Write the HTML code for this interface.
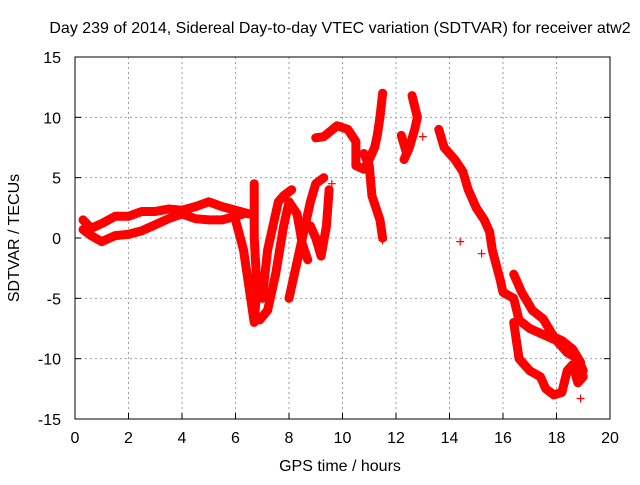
<!DOCTYPE html>
<html><head><meta charset="utf-8"><style>
body{margin:0;background:#fff}
svg text{font-family:"Liberation Sans",sans-serif;font-size:16px;fill:#000}
</style></head><body>
<svg width="640" height="480" viewBox="0 0 640 480">
<rect width="640" height="480" fill="#fff"/>
<text x="340" y="33" text-anchor="middle">Day 239 of 2014, Sidereal Day-to-day VTEC variation (SDTVAR) for receiver atw2</text>
<g id="grid"></g>
<g id="axes"></g>
<g id="series"></g>
<rect x="75" y="57" width="535" height="362" fill="none" stroke="#000" stroke-width="1"/>
<text x="340" y="471" text-anchor="middle">GPS time / hours</text>
<text transform="translate(19,238) rotate(-90)" text-anchor="middle">SDTVAR / TECUs</text>
</svg>
<script>
const xTicks=[0,2,4,6,8,10,12,14,16,18,20];
const yTicks=[-15,-10,-5,0,5,10,15];
const trackA_h=[0.3,0.6,1,1.5,2,2.5,3,3.5,4,4.5,5,5.5,6,6.5];
const trackA_v=[1.5,0.8,1.2,1.8,1.8,2.2,2.2,2.4,2.3,2.6,3.0,2.6,2.3,2.0];
const trackB_h=[0.3,0.6,1,1.5,2,2.5,3,3.5,4,4.5,5,5.5,6,6.3];
const trackB_v=[0.7,0.2,-0.3,0.2,0.3,0.6,1.1,1.6,2.0,1.6,1.5,1.5,1.8,2.0];
const trackC_h=[6.0,6.3,6.5,6.6,6.7,6.8,6.7,6.7];
const trackC_v=[1.5,-1,-4,-5.5,-7,-4,0,4.5];
const trackD_h=[6.9,7.2,7.5,7.8,8.0,8.3,8.5,8.7];
const trackD_v=[-6.8,-6,-3,1,3,2,-0.5,-1.8];
const trackE_h=[7.0,7.2,7.4,7.6,7.8,8.1];
const trackE_v=[-5,-1,1,3,3.5,4];
const trackF_h=[8.0,8.3,8.6,8.8,9.0,9.3];
const trackF_v=[-5,-2,1,3,4.5,5];
const trackG_h=[8.8,9.0,9.2,9.4,9.5];
const trackG_v=[1,0,-1.5,1,4];
const trackH_h=[9.0,9.3,9.8,10.2,10.5,10.5,10.8,11.0,11.2,11.3,11.4,11.5];
const trackH_v=[8.3,8.4,9.3,9.0,8.0,6.0,5.7,6.5,7.5,8.5,10,12];
const trackI_h=[10.8,11.0,11.1,11.4,11.5];
const trackI_v=[7,6,3.5,1.5,0];
const trackJ_h=[12.2,12.4,12.3,12.5,12.7,12.8,12.6];
const trackJ_v=[8.5,7,6.5,7.5,9,10,11.8];
const trackK_h=[13.6,13.8,14.2,14.5,14.7,15.0,15.3,15.5,15.6,15.9,16.0,16.4,16.6,17.0,17.5,18.0,18.4,18.8,19.0];
const trackK_v=[9,7.5,6.5,5.5,4,2.5,1.5,0.5,-1,-3.5,-4.5,-5,-6.8,-7.5,-8,-8.5,-9.5,-10,-11];
const trackL_h=[16.4,16.7,17.1,17.5,17.9,18.2,18.6,18.9];
const trackL_v=[-3,-4.5,-6,-6.7,-8.2,-8.5,-9.2,-10.3];
const trackM_h=[16.4,16.6,17.0,17.4,17.6,17.9,18.2,18.4,18.6,18.8,19.0];
const trackM_v=[-7,-10,-11,-11.5,-12.5,-13,-12.8,-11,-10.5,-12,-11.5];
const strayH=[14.4,15.2,13.0,11.5,9.6,18.9];
const strayV=[-0.3,-1.3,8.4,-0.2,4.5,-13.3];
const tracksH=[trackA_h,trackB_h,trackC_h,trackD_h,trackE_h,trackF_h,trackG_h,trackH_h,trackI_h,trackJ_h,trackK_h,trackL_h,trackM_h];
const tracksV=[trackA_v,trackB_v,trackC_v,trackD_v,trackE_v,trackF_v,trackG_v,trackH_v,trackI_v,trackJ_v,trackK_v,trackL_v,trackM_v];

const NS="http://www.w3.org/2000/svg";
function xs(h){return 75+(h-0)*(535/20);}
function ys(v){return 238-v*(362/30);}
const grid=document.getElementById('grid'),axes=document.getElementById('axes'),series=document.getElementById('series');
function mk(tag,attrs,parent){const e=document.createElementNS(NS,tag);for(const k in attrs)e.setAttribute(k,attrs[k]);parent.appendChild(e);return e;}
xTicks.forEach(t=>{
  const x=xs(t);
  if(t>0&&t<20){const g=mk('line',{x1:x,y1:57,x2:x,y2:419,stroke:'#a0a0a0','stroke-dasharray':'2,3'},grid);
  
  }
  const tk=mk('line',{x1:x,y1:419,x2:x,y2:413,stroke:'#000'},axes);
  
  
  const tx=mk('text',{x:x,y:443,'text-anchor':'middle'},axes);tx.textContent=t;
  
  
});
yTicks.forEach(t=>{
  const y=ys(t);
  if(t>-15&&t<15){const g=mk('line',{x1:75,y1:y,x2:610,y2:y,stroke:'#a0a0a0','stroke-dasharray':'2,3'},grid);
  
  }
  const tk=mk('line',{x1:75,y1:y,x2:81,y2:y,stroke:'#000'},axes);
  
  
  const tk2=mk('line',{x1:604,y1:y,x2:610,y2:y,stroke:'#000'},axes);
  
  
  const tx=mk('text',{x:61,y:y+6,'text-anchor':'end'},axes);tx.textContent=t;
  
  
});
function plus(h,v){
  const x=xs(h),y=ys(v);
  const p=mk('path',{d:`M${x-4},${y}H${x+4}M${x},${y-4}V${y+4}`,stroke:'#f00','stroke-width':1.2},series);
  
  
}
tracksH.forEach((hs,i)=>{
  const vs=tracksV[i];
  const pts=hs.map((h,j)=>xs(h)+','+ys(vs[j])).join(' ');
  const pl=mk('polyline',{points:pts,fill:'none',stroke:'#f00','stroke-width':9,'stroke-linejoin':'round','stroke-linecap':'round'},series);
  
  
  hs.forEach((h,j)=>plus(h,vs[j]));
});
strayH.forEach((h,i)=>plus(h,strayV[i]));
</script>
</body></html>
